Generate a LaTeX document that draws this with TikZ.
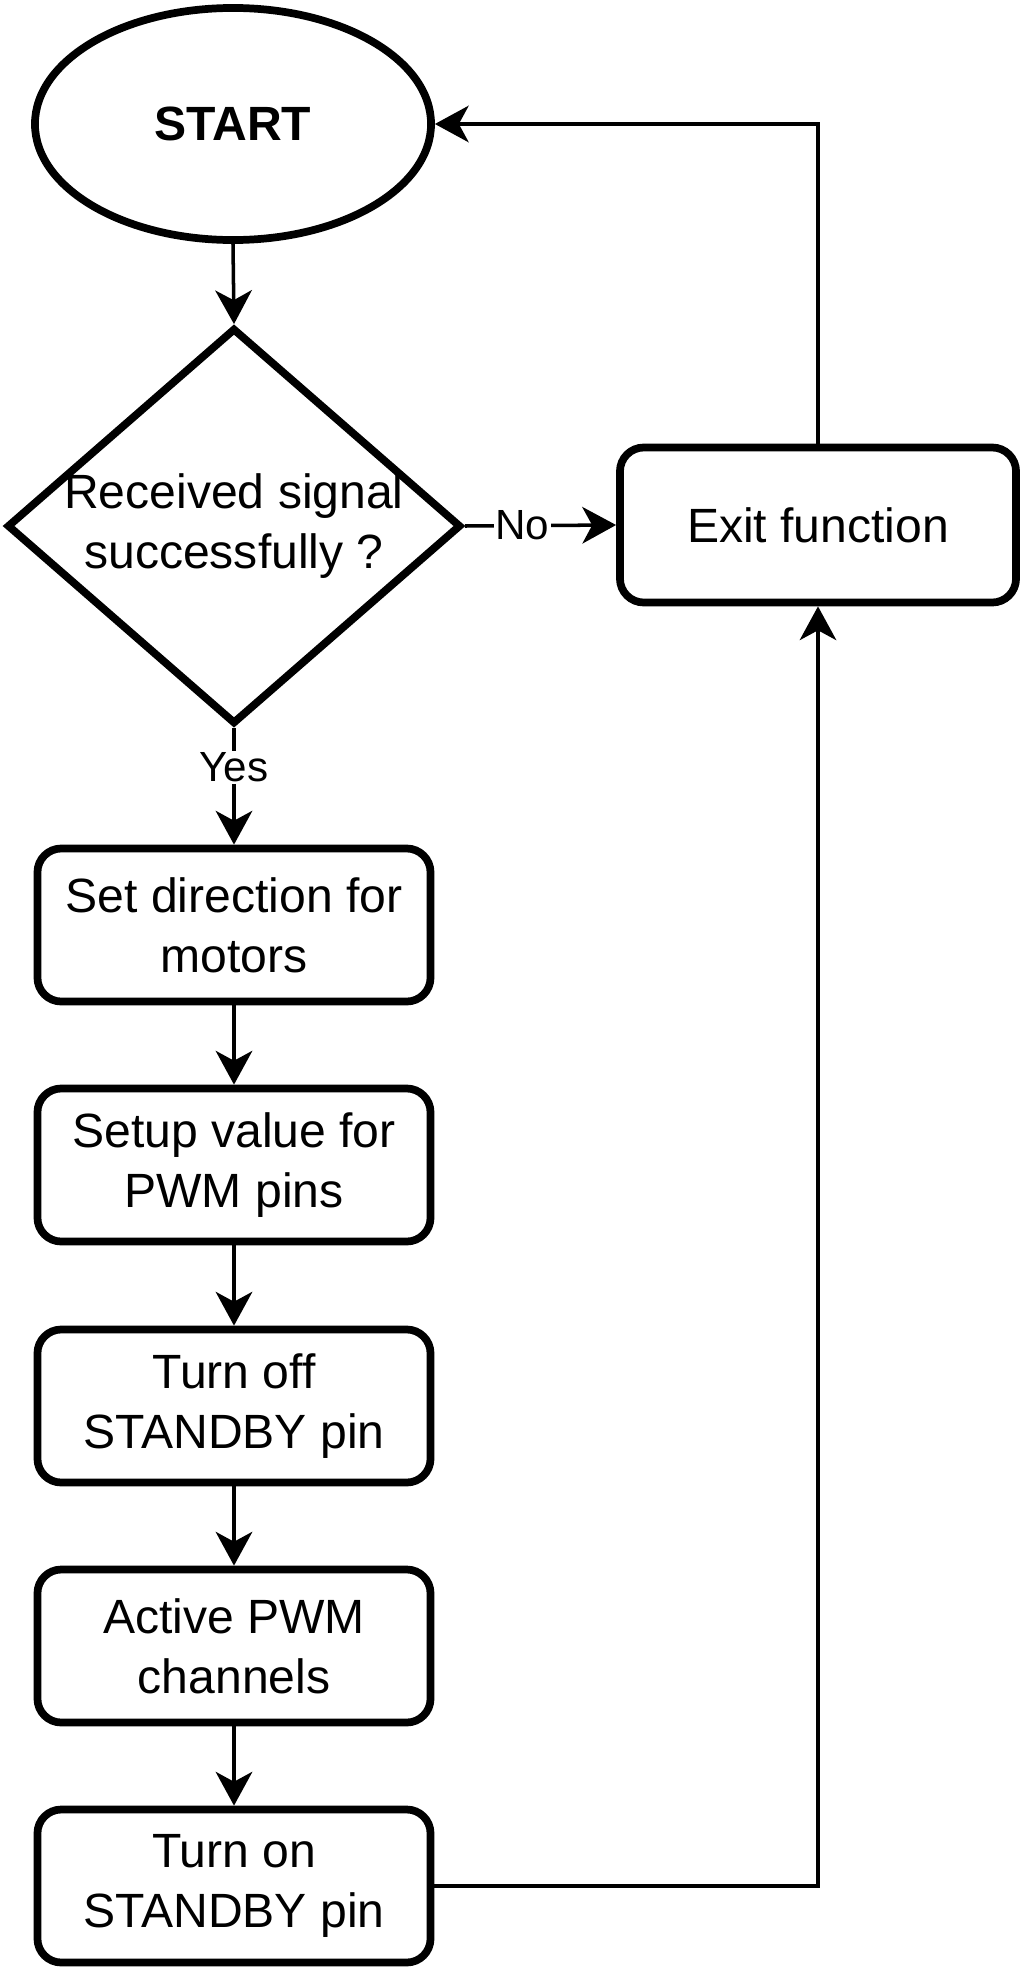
\documentclass[tikz,border=0pt]{standalone}
\usepackage{fontspec}
\setmainfont{Liberation Sans}
\usetikzlibrary{shapes.geometric,arrows.meta}
\begin{document}
\begin{tikzpicture}[x=0.025cm,y=-0.025cm,
  shapeline/.style={draw=black,line width=5.5pt,fill=white},
  mainfont/.style={font=\fontsize{34.2pt}{42.7pt}\selectfont},
  procbox/.style={shapeline,rectangle,rounded corners=17pt,minimum width=393*0.7113pt,minimum height=153*0.7113pt,inner sep=0pt,align=center,mainfont},
  conn/.style={draw=black,line width=2.5pt,-{Stealth[length=24pt,width=26pt,inset=7pt]}},
  lbl/.style={fill=white,inner sep=1pt,font=\fontsize{30pt}{36pt}\selectfont}
]
\useasboundingbox (0,0) rectangle (1024,1972);
\node[shapeline,ellipse,minimum width=396*0.7113pt,minimum height=232*0.7113pt,inner sep=0pt,font=\bfseries\fontsize{34.2pt}{42.7pt}\selectfont] (start) at (233,124) {START};
\node[shapeline,diamond,minimum width=454*0.7113pt,minimum height=396*0.7113pt,inner sep=0pt] (dec) at (234,526) {};
\node[align=center,mainfont] (dectext) at (234,526) {Received signal\\successfully ?};
\node[procbox,minimum width=396*0.7113pt,minimum height=155*0.7113pt] (exit) at (818,525) {Exit function};
\node[procbox] (b1) at (234,925) {Set direction for\\motors};
\node[procbox] (b2) at (234,1165) {Setup value for\\PWM pins};
\node[procbox] (b3) at (234,1406) {Turn off\\STANDBY pin};
\node[procbox] (b4) at (234,1646) {Active PWM\\channels};
\node[procbox] (b5) at (234,1886) {Turn on\\STANDBY pin};
\draw[conn] (start.south) -- (dec.north);
\draw[conn] (dec.east) -- node[lbl,pos=0.38] {No} (exit.west);
\draw[conn] (dec.south) -- node[lbl,pos=0.34] {Yes} (b1.north);
\draw[conn] (b1.south) -- (b2.north);
\draw[conn] (b2.south) -- (b3.north);
\draw[conn] (b3.south) -- (b4.north);
\draw[conn] (b4.south) -- (b5.north);
\draw[conn] (b5.east) -| (exit.south);
\draw[conn] (exit.north) |- (start.east);
\end{tikzpicture}
\end{document}
